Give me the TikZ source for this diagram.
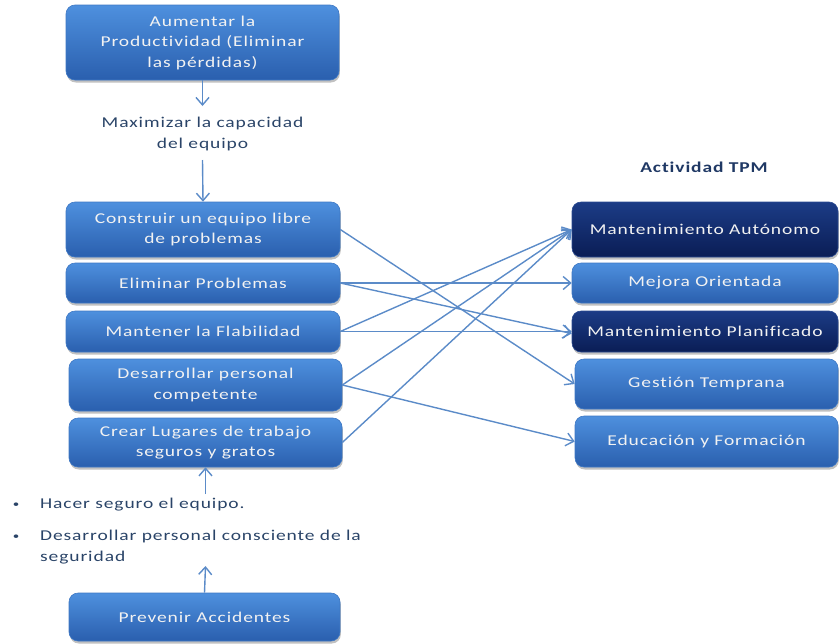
\documentclass[tikz,border=0pt]{standalone}
\usepackage{fontspec}
\setmainfont{Carlito}[FakeStretch=1.3,LetterSpace=6,RawFeature={-liga}]
\usetikzlibrary{arrows.meta,shadows}
\definecolor{boxtop}{HTML}{4E90DE}
\definecolor{boxbot}{HTML}{2A5FAE}
\definecolor{boxedge}{HTML}{3E78C4}
\definecolor{darktop}{HTML}{1C3C86}
\definecolor{darkbot}{HTML}{0A1D55}
\definecolor{darkedge}{HTML}{2A4A90}
\definecolor{linec}{HTML}{5B8BC8}
\definecolor{labelc}{HTML}{2A4468}
\definecolor{titlec}{HTML}{1F3864}
\begin{document}
\begin{tikzpicture}[x=1pt,y=-1pt,
  font=\fontsize{15}{20.5}\selectfont,
  box/.style={rounded corners=9pt, top color=boxtop, bottom color=boxbot,
    draw=boxedge, line width=0.6pt, text=white!95!black, align=center, inner sep=0pt,
    drop shadow={shadow xshift=0.8pt,shadow yshift=-2.5pt,opacity=0.35,fill=black!70}},
  darkbox/.style={box, top color=darktop, bottom color=darkbot, draw=darkedge},
  conn/.style={draw=linec, line width=1.4pt, -{Straight Barb[length=7.5pt,width=13pt,line width=1.4pt]}},
  lbl/.style={text=labelc, align=center, inner sep=0pt}
]
\useasboundingbox (0,0) rectangle (840,643);

% left column
\node[box, minimum width=273pt, minimum height=75pt] (top) at (202.5,42.5)
  {Aumentar la\\Productividad (Eliminar\\las pérdidas)};
\node[lbl] (maxi) at (202.5,134) {Maximizar la capacidad\\del equipo};
\coordinate (m1) at (202.5,106);
\coordinate (m2) at (202.5,160);

\node[box, minimum width=274pt, minimum height=55pt] (L1) at (203,229.5)
  {Construir un equipo libre\\de problemas};
\node[box, minimum width=274pt, minimum height=40pt] (L2) at (203,283)
  {Eliminar Problemas};
\node[box, minimum width=274pt, minimum height=41pt] (L3) at (203,331.5)
  {Mantener la Flabilidad};
\node[box, minimum width=273pt, minimum height=52pt] (L4) at (205.5,385)
  {Desarrollar personal\\competente};
\node[box, minimum width=273pt, minimum height=49pt] (L5) at (205.5,442.5)
  {Crear Lugares de trabajo\\seguros y gratos};

% bullets
\node[text=labelc, anchor=base, inner sep=0pt, font=\fontsize{10}{12}\selectfont] (d1) at (16,507) {•};
\node[text=labelc, anchor=base west, inner sep=0pt] (b1) at (40,508) {Hacer seguro el equipo.};
\node[text=labelc, anchor=base, inner sep=0pt, font=\fontsize{10}{12}\selectfont] (d2) at (16,539) {•};
\node[text=labelc, anchor=base west, inner sep=0pt] (b2) at (40,540) {Desarrollar personal consciente de la};
\node[text=labelc, anchor=base west, inner sep=0pt] (b3) at (40,561) {seguridad};
\coordinate (s1) at (205.5,494);
\coordinate (s2) at (205.5,566);

\node[box, minimum width=271pt, minimum height=48pt] (prev) at (204.5,617)
  {Prevenir Accidentes};

% right column
\node[text=titlec, font=\fontsize{15}{20.5}\selectfont\bfseries, inner sep=0pt] (title) at (704,167) {Actividad TPM};
\node[darkbox, minimum width=266pt, minimum height=55pt] (R1) at (705,229.5)
  {Mantenimiento Autónomo};
\node[box, minimum width=266pt, minimum height=40pt] (R2) at (705,283)
  {Mejora Orientada};
\node[darkbox, minimum width=266pt, minimum height=41pt] (R3) at (705,331.5)
  {Mantenimiento Planificado};
\node[box, minimum width=263pt, minimum height=50pt] (R4) at (706.5,384)
  {Gestión Temprana};
\node[box, minimum width=263pt, minimum height=51pt] (R5) at (706.5,441.5)
  {Educación y Formación};

% vertical arrows
\draw[conn] (top.south) -- (m1);
\draw[conn] (m2) -- (L1.north);
\draw[conn] (s1) -- (L5.south);
\draw[conn] (prev.north) -- (s2);

% cross connectors
\draw[conn] (L1.east) -- (R4.west);
\draw[conn] (L2.east) -- (R2.west);
\draw[conn] (L2.east) -- ([yshift=-2pt]R3.west);
\draw[conn] (L3.east) -- (R3.west);
\draw[conn] (L3.east) -- (R1.west);
\draw[conn] (L4.east) -- (R1.west);
\draw[conn] (L4.east) -- (R5.west);
\draw[conn] (L5.east) -- (R1.west);
\end{tikzpicture}
\end{document}
